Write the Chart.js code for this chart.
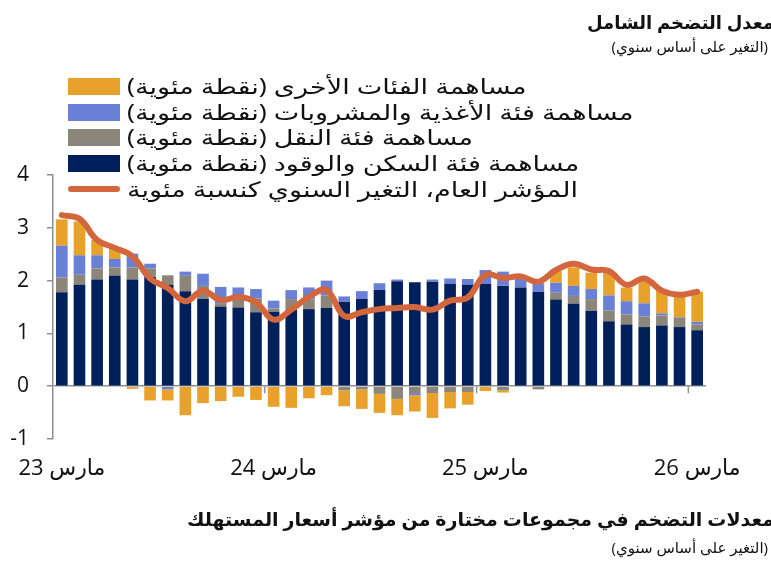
<!DOCTYPE html>
<html lang="ar">
<head>
<meta charset="utf-8">
<title>معدل التضخم الشامل</title>
<script src="https://cdn.jsdelivr.net/npm/chart.js@4.4.1/dist/chart.umd.min.js"></script>
<style>
    html, body {
        margin: 0;
        padding: 0;
        background: #fff;
    }
    body {
        position: relative;
        width: 771px;
        height: 564px;
        overflow: hidden;
        font-family: "Open Sans", "DejaVu Sans", sans-serif;
        color: #111;
    }
    #wrap {
        position: absolute;
        left: 0;
        top: 0;
        width: 771px;
        height: 564px;
    }
    .title, .sub {
        position: absolute;
        direction: rtl;
        white-space: nowrap;
        text-align: right;
    }
    .title {
        font-weight: bold;
        font-size: 18px;
        line-height: 24px;
        right: -3px;
    }
    .sub {
        font-size: 15px;
        line-height: 20px;
        right: 3px;
    }
    #legend {
        position: absolute;
        left: 68px;
        top: 74px;
    }
    .row {
        display: flex;
        align-items: center;
        height: 25.6px;
        direction: ltr;
    }
    .swatch {
        width: 52px;
        height: 17px;
        margin-right: 7px;
        flex: none;
    }
    .swatch.line {
        height: 6px;
        border-radius: 3px;
    }
    .label {
        display: inline-block;
        direction: rtl;
        font-size: 21px;
        line-height: 25px;
        white-space: nowrap;
        transform: scaleX(1.29);
        transform-origin: left center;
    }
</style>
</head>
<body>
<div id="wrap"><canvas id="myChart"></canvas></div>

<div class="title" style="top:10px">معدل التضخم الشامل</div>
<div class="sub" style="top:36px">(التغير على أساس سنوي)</div>
<div id="legend"></div>
<div class="title" style="top:507px; font-size:19px">معدلات التضخم في مجموعات مختارة من مؤشر أسعار المستهلك</div>
<div class="sub" style="top:537px">(التغير على أساس سنوي)</div>

<script>
"use strict";

const months = [
    "مارس 23", "أبريل 23", "مايو 23", "يونيو 23", "يوليو 23", "أغسطس 23",
    "سبتمبر 23", "أكتوبر 23", "نوفمبر 23", "ديسمبر 23", "يناير 24", "فبراير 24",
    "مارس 24", "أبريل 24", "مايو 24", "يونيو 24", "يوليو 24", "أغسطس 24",
    "سبتمبر 24", "أكتوبر 24", "نوفمبر 24", "ديسمبر 24", "يناير 25", "فبراير 25",
    "مارس 25", "أبريل 25", "مايو 25", "يونيو 25", "يوليو 25", "أغسطس 25",
    "سبتمبر 25", "أكتوبر 25", "نوفمبر 25", "ديسمبر 25", "يناير 26", "فبراير 26",
    "مارس 26"
];

// contributions in percentage points
const housing = [
    1.78, 1.92, 2.02, 2.09, 2.02, 2.07, 1.92, 1.80, 1.65, 1.51, 1.49, 1.40,
    1.41, 1.45, 1.46, 1.48, 1.60, 1.65, 1.82, 1.99, 1.97, 1.98, 1.94, 1.92,
    1.94, 1.90, 1.87, 1.79, 1.64, 1.56, 1.43, 1.23, 1.17, 1.12, 1.15, 1.12,
    1.06
];
const transport = [
    0.28, 0.19, 0.21, 0.16, 0.23, 0.16, 0.18, 0.29, 0.25, 0.05, 0.17, 0.26,
    0.06, 0.20, 0.18, 0.24, -0.08, -0.06, -0.145, -0.24, -0.13, -0.13, -0.11, -0.11,
    0.00, -0.08, 0.00, -0.06, 0.13, 0.15, 0.22, 0.20, 0.19, 0.20, 0.19, 0.18,
    0.11
];
const food = [
    0.60, 0.37, 0.25, 0.16, 0.26, 0.09, -0.06, 0.08, 0.23, 0.32, 0.21, 0.18,
    0.15, 0.17, 0.23, 0.28, 0.10, 0.15, 0.13, 0.03, -0.04, 0.04, 0.10, 0.11,
    0.26, 0.27, 0.17, 0.16, 0.19, 0.19, 0.19, 0.29, 0.25, 0.25, 0.04, 0.01,
    0.05
];
const other = [
    0.50, 0.64, 0.29, 0.20, -0.05, -0.27, -0.21, -0.55, -0.32, -0.28, -0.20, -0.26,
    -0.39, -0.41, -0.23, -0.17, -0.30, -0.37, -0.36, -0.31, -0.31, -0.47, -0.31, -0.24,
    -0.09, -0.04, 0.00, 0.00, 0.22, 0.35, 0.31, 0.43, 0.26, 0.42, 0.43, 0.43,
    0.57
];
// headline index, y/y %
const headline = [
    3.24, 3.17, 2.77, 2.62, 2.46, 2.04, 1.86, 1.61, 1.81, 1.63, 1.69, 1.59,
    1.26, 1.45, 1.69, 1.82, 1.33, 1.40, 1.46, 1.48, 1.50, 1.45, 1.62, 1.68,
    2.11, 2.05, 2.08, 1.98, 2.20, 2.32, 2.21, 2.18, 1.92, 2.04, 1.81, 1.73,
    1.79
];

const yTicks = [-1, 0, 1, 2, 3, 4];

const fontFamily = '"Open Sans", "DejaVu Sans", sans-serif';
const axisGray = '#8f8f8f';

// small tick marks on the zero line between February and March
const zeroTicks = {
    id: 'zeroTicks',
    afterDatasetsDraw(chart) {
        const { ctx, scales: { x, y } } = chart;
        const y0 = y.getPixelForValue(0);
        ctx.save();
        ctx.strokeStyle = axisGray;
        ctx.lineWidth = 1.5;
        months.forEach((m, i) => {
            if (i > 0 && m.startsWith('مارس')) {
                const px = (x.getPixelForValue(i - 1) + x.getPixelForValue(i)) / 2;
                ctx.beginPath();
                ctx.moveTo(px, y0);
                ctx.lineTo(px, y0 + 7);
                ctx.stroke();
            }
        });
        ctx.restore();
    }
};

function barSet(label, data, color) {
    return {
        label: label,
        data: data,
        backgroundColor: color,
        borderWidth: 0,
        barPercentage: 0.66,
        categoryPercentage: 1.0,
        stack: 'parts'
    };
}

function CreateChart() {
    const ctx = document.getElementById('myChart').getContext('2d');
    const myChart = new Chart(ctx, {
        type: 'bar',
        data: {
            labels: months,
            datasets: [
                barSet('مساهمة فئة السكن والوقود (نقطة مئوية)', housing, '#00205b'),
                barSet('مساهمة فئة النقل (نقطة مئوية)', transport, '#8b8679'),
                barSet('مساهمة فئة الأغذية والمشروبات (نقطة مئوية)', food, '#6a80d6'),
                barSet('مساهمة الفئات الأخرى (نقطة مئوية)', other, '#e8a22c'),
                {
                    type: 'line',
                    label: 'المؤشر العام، التغير السنوي كنسبة مئوية',
                    data: headline,
                    borderColor: '#d4663e',
                    backgroundColor: '#d4663e',
                    borderWidth: 6,
                    borderCapStyle: 'round',
                    borderJoinStyle: 'round',
                    tension: 0.4,
                    pointRadius: 0,
                    stack: 'line',
                    order: -1
                }
            ]
        },
        options: {
            responsive: true,
            maintainAspectRatio: false,
            animation: false,
            layout: {
                padding: { top: 175, right: 65, left: 0, bottom: 0 }
            },
            plugins: {
                legend: { display: false },
                tooltip: { enabled: false }
            },
            scales: {
                x: {
                    stacked: true,
                    grid: { display: false, drawTicks: false },
                    border: { display: false },
                    ticks: {
                        autoSkip: false,
                        maxRotation: 0,
                        padding: 17,
                        color: '#111',
                        font: { size: 22, family: fontFamily },
                        callback: function (value) {
                            const label = this.getLabelForValue(value);
                            return label.startsWith('مارس') ? label : '';
                        }
                    },
                    afterFit: (scale) => { scale.height = 125; }
                },
                y: {
                    stacked: true,
                    min: yTicks[0],
                    max: yTicks[yTicks.length - 1],
                    afterBuildTicks: (scale) => {
                        scale.ticks = yTicks.map(v => ({ value: v }));
                    },
                    ticks: {
                        padding: 18,
                        color: '#111',
                        font: { size: 21, family: fontFamily }
                    },
                    grid: {
                        color: (c) => (c.tick && c.tick.value === 0 ? axisGray : 'rgba(0,0,0,0)'),
                        tickColor: axisGray,
                        tickLength: 6,
                        lineWidth: 1.5
                    },
                    border: { color: axisGray, width: 1.5 },
                    afterFit: (scale) => { scale.width = 53; }
                }
            }
        },
        plugins: [zeroTicks]
    });
    return myChart;
}

function BuildLegend(chart) {
    const box = document.getElementById('legend');
    const sets = chart.data.datasets;
    const bars = sets.filter(d => d.type !== 'line').reverse();
    const lines = sets.filter(d => d.type === 'line');
    bars.concat(lines).forEach(d => {
        const row = document.createElement('div');
        row.className = 'row';
        const sw = document.createElement('span');
        sw.className = d.type === 'line' ? 'swatch line' : 'swatch';
        sw.style.background = d.type === 'line' ? d.borderColor : d.backgroundColor;
        const txt = document.createElement('span');
        txt.className = 'label';
        txt.textContent = d.label;
        row.appendChild(sw);
        row.appendChild(txt);
        box.appendChild(row);
    });
}

const chart = CreateChart();
BuildLegend(chart);
</script>
</body>
</html>
